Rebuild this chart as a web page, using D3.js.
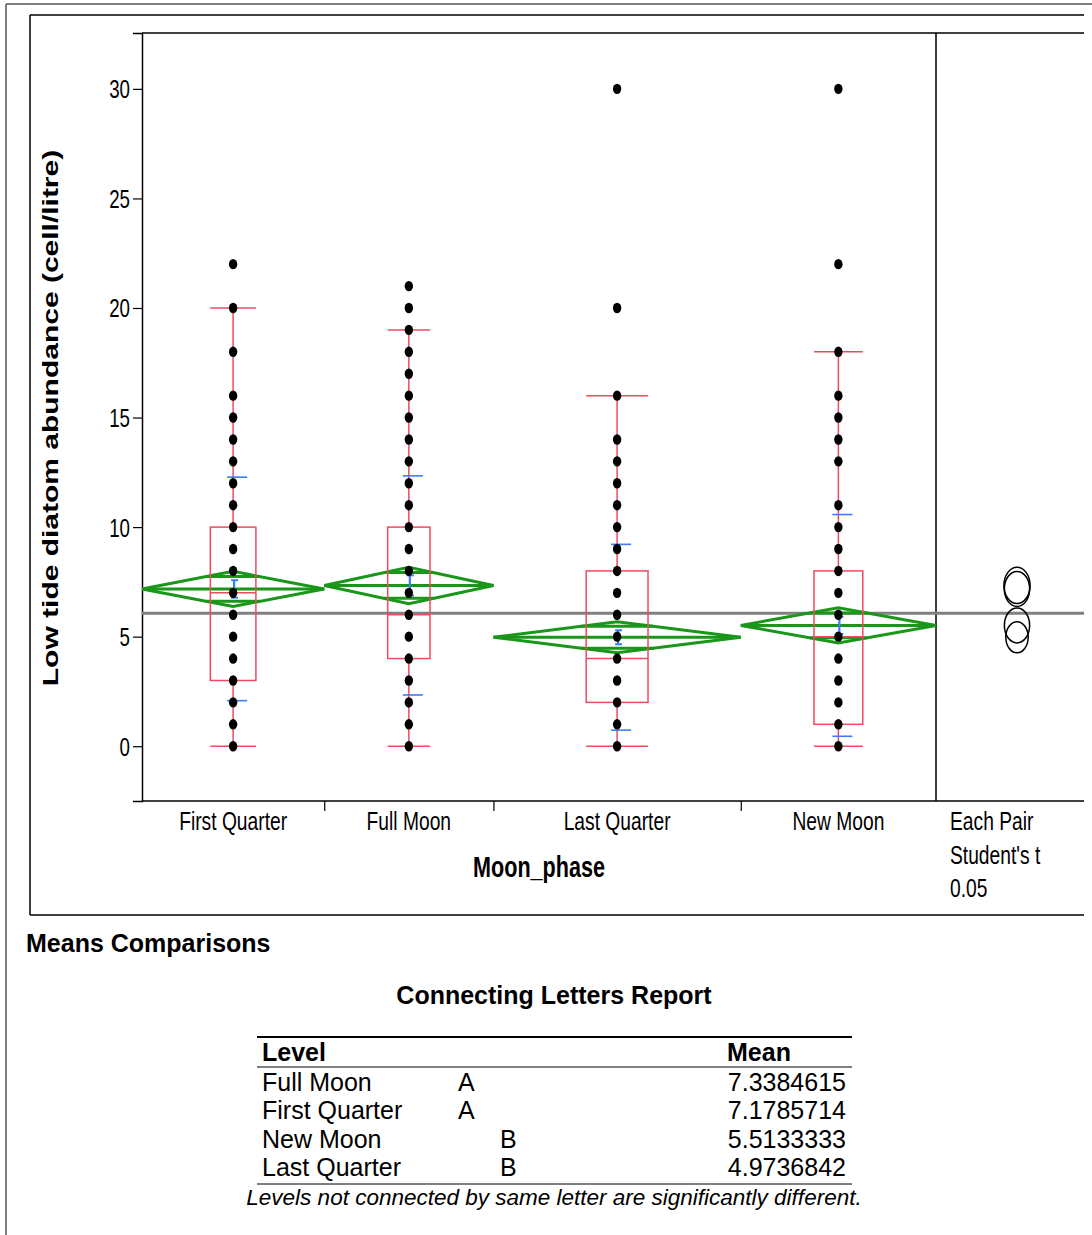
<!DOCTYPE html>
<html><head><meta charset="utf-8">
<script src="https://cdn.jsdelivr.net/npm/d3@7"></script>
<style>html,body{margin:0;padding:0;background:#fff;}svg{display:block;}</style>
</head><body>
<script>
// ---------- data ----------
const categories = ["First Quarter", "Full Moon", "Last Quarter", "New Moon"];
const groupN = [28, 26, 38, 30];
const means = [7.1785714, 7.3384615, 4.9736842, 5.5133333];
const ciHalf = [0.8, 0.83, 0.71, 0.8];
const stdErr = [0.4, 0.46, 0.32, 0.39];
const stdDev = [5.1, 5.0, 4.24, 5.06];
const q1 = [3, 4, 2, 1];
const medians = [7, 6, 4, 5];
const q3 = [10, 10, 8, 8];
const whiskerLo = [0, 0, 0, 0];
const whiskerHi = [20, 19, 16, 18];
const dotsFirstQuarter = [0,1,2,3,4,5,6,7,8,9,10,11,12,13,14,15,16,18,20,22];
const dotsFullMoon = [0,1,2,3,4,5,6,7,8,9,10,11,12,13,14,15,16,17,18,19,20,21];
const dotsLastQuarter = [0,1,2,3,4,5,6,7,8,9,10,11,12,13,14,16,20,30];
const dotsNewMoon = [0,1,2,3,4,5,6,7,8,9,10,11,13,14,15,16,18,22,30];
const dotsByGroup = [dotsFirstQuarter, dotsFullMoon, dotsLastQuarter, dotsNewMoon];
const grandMean = 6.07;
const yTicks = [0, 5, 10, 15, 20, 25, 30];
const yMinorTicks = [-2.5, 2.5, 7.5, 12.5, 17.5, 22.5, 27.5, 32.5];
const yLabel = "Low tide diatom abundance (cell/litre)";
const xLabel = "Moon_phase";
const compLabels = ["Each Pair", "Student's t", "0.05"];
const tableLevels = ["Full Moon", "First Quarter", "New Moon", "Last Quarter"];
const tableLetterCol = [0, 0, 1, 1];
const tableLetters = ["A", "A", "B", "B"];
const tableMeans = ["7.3384615", "7.1785714", "5.5133333", "4.9736842"];

// ---------- layout ----------
const W = 1092, H = 1235;
const svg = d3.select("body").append("svg").attr("width", W).attr("height", H)
  .style("font-family", "'Liberation Sans', Arial, sans-serif");
svg.append("rect").attr("width", W).attr("height", H).attr("fill", "#fff");

const L = 142, R = 936, T = 33, B = 801, RE = 1084;
const y = d3.scaleLinear().domain([-2.5, 32.55]).range([B, T]);
const totalN = d3.sum(groupN);
const x = d3.scaleLinear().domain([0, totalN]).range([L, R]);
const cum = [0]; groupN.forEach((n, i) => cum.push(cum[i] + n));
const bands = categories.map((c, i) => ({ x0: x(cum[i]), x1: x(cum[i + 1]), xc: x(cum[i] + groupN[i] / 2) }));

const SX = 0.74; // horizontal squish of the plot texts
function ctext(g, px, py, str, size, weight, anchor, sx) {
  return g.append("text").attr("transform", `translate(${px},${py}) scale(${sx},1)`)
    .attr("text-anchor", anchor).attr("font-size", size).attr("font-weight", weight)
    .attr("fill", "#000").text(str);
}

// frames
svg.append("line").attr("x1", 6).attr("x2", W).attr("y1", 4).attr("y2", 4).attr("stroke", "#555").attr("stroke-width", 1.5);
svg.append("line").attr("x1", 6).attr("x2", 6).attr("y1", 4).attr("y2", H).attr("stroke", "#555").attr("stroke-width", 1.5);
svg.append("line").attr("x1", 30).attr("x2", RE).attr("y1", 15).attr("y2", 15).attr("stroke", "#000").attr("stroke-width", 1.5);
svg.append("line").attr("x1", 30).attr("x2", 30).attr("y1", 15).attr("y2", 915).attr("stroke", "#000").attr("stroke-width", 1.5);
svg.append("line").attr("x1", 30).attr("x2", RE).attr("y1", 915).attr("y2", 915).attr("stroke", "#000").attr("stroke-width", 1.5);

// plot frame
svg.append("line").attr("x1", L).attr("x2", RE).attr("y1", T).attr("y2", T).attr("stroke", "#000").attr("stroke-width", 1.5);
svg.append("line").attr("x1", L).attr("x2", RE).attr("y1", B).attr("y2", B).attr("stroke", "#000").attr("stroke-width", 1.5);
svg.append("line").attr("x1", R).attr("x2", R).attr("y1", T).attr("y2", B).attr("stroke", "#000").attr("stroke-width", 1.5);

// y axis
const yAxisG = svg.append("g").attr("transform", `translate(${L},0)`);
yAxisG.call(d3.axisLeft(y).tickValues(yMinorTicks).tickSize(5).tickFormat(""));
yAxisG.call(d3.axisLeft(y).tickValues(yTicks).tickSize(9).tickFormat(""));
yAxisG.selectAll("path.domain").attr("stroke-width", 1.5);
yAxisG.selectAll("line").attr("stroke-width", 1.2);
yTicks.forEach(v => ctext(svg, 130, y(v) + 9.5, String(v), 26, "normal", "end", 0.72));

// x axis ticks at band boundaries
const xAxisG = svg.append("g").attr("transform", `translate(0,${B})`);
xAxisG.call(d3.axisBottom(x).tickValues(cum.slice(1, -1)).tickSize(10).tickFormat(""));
xAxisG.select("path.domain").remove();
xAxisG.selectAll("line").attr("stroke-width", 1.2);
bands.forEach((b, i) => ctext(svg, b.xc, 830, categories[i], 26, "normal", "middle", SX));
ctext(svg, (L + R) / 2, 877, xLabel, 30, "bold", "middle", 0.72);
compLabels.forEach((s, i) => ctext(svg, 950, 830 + i * 33.5, s, 26, "normal", "start", SX));

// y label
svg.append("text").attr("transform", `translate(58,418) rotate(-90) scale(1,0.75)`)
  .attr("text-anchor", "middle").attr("font-size", 30).attr("font-weight", "bold").text(yLabel);

// grand mean line
svg.append("line").attr("x1", L).attr("x2", RE).attr("y1", y(grandMean)).attr("y2", y(grandMean))
  .attr("stroke", "#808080").attr("stroke-width", 3);

// means diamonds
const green = "#1a961a";
const OV = Math.SQRT1_2;
bands.forEach((b, i) => {
  const m = means[i], c = ciHalf[i];
  const g = svg.append("g").attr("fill", "none").attr("stroke", green).attr("stroke-width", 3);
  g.append("path").attr("d", d3.line()([[b.x0, y(m)], [b.xc, y(m + c)], [b.x1, y(m)], [b.xc, y(m - c)], [b.x0, y(m)]]));
  g.append("line").attr("x1", b.x0).attr("x2", b.x1).attr("y1", y(m)).attr("y2", y(m));
  const hw = (b.x1 - b.x0) / 2 * (1 - OV);
  [m + c * OV, m - c * OV].forEach(v => g.append("line").attr("x1", b.xc - hw).attr("x2", b.xc + hw)
    .attr("y1", y(v)).attr("y2", y(v)));
});

// box plots
const red = "#ee4b62";
bands.forEach((b, i) => {
  const bw = (b.x1 - b.x0) * 0.25;
  const g = svg.append("g").attr("fill", "none").attr("stroke", red).attr("stroke-width", 1.5);
  g.append("rect").attr("x", b.xc - bw / 2).attr("width", bw).attr("y", y(q3[i])).attr("height", y(q1[i]) - y(q3[i]));
  g.append("line").attr("x1", b.xc - bw / 2).attr("x2", b.xc + bw / 2).attr("y1", y(medians[i])).attr("y2", y(medians[i]));
  g.append("line").attr("x1", b.xc).attr("x2", b.xc).attr("y1", y(q3[i])).attr("y2", y(whiskerHi[i]));
  g.append("line").attr("x1", b.xc).attr("x2", b.xc).attr("y1", y(q1[i])).attr("y2", y(whiskerLo[i]));
  [whiskerHi[i], whiskerLo[i]].forEach(v => g.append("line").attr("x1", b.xc - bw / 2).attr("x2", b.xc + bw / 2)
    .attr("y1", y(v)).attr("y2", y(v)));
});

// std dev & std err marks
const blue = "#3d7cf5";
bands.forEach((b, i) => {
  const g = svg.append("g").attr("stroke", blue).attr("stroke-width", 1.6);
  [means[i] + stdDev[i], means[i] - stdDev[i]].forEach(v => g.append("line")
    .attr("x1", b.xc - 6).attr("x2", b.xc + 14).attr("y1", y(v)).attr("y2", y(v)));
  g.append("line").attr("x1", b.xc + 1).attr("x2", b.xc + 1).attr("y1", y(means[i] + stdErr[i])).attr("y2", y(means[i] - stdErr[i])).attr("stroke-width", 2.2);
  [means[i] + stdErr[i], means[i] - stdErr[i]].forEach(v => g.append("line")
    .attr("x1", b.xc - 2).attr("x2", b.xc + 5).attr("y1", y(v)).attr("y2", y(v)).attr("stroke-width", 2));
});

// data points
bands.forEach((b, i) => {
  svg.append("g").selectAll("ellipse").data(dotsByGroup[i]).join("ellipse")
    .attr("cx", b.xc).attr("cy", d => y(d)).attr("rx", 4.2).attr("ry", 5.2).attr("fill", "#000");
});

// comparison circles
const circX = 1017;
categories.forEach((c, i) => {
  const ry = y(means[i] - ciHalf[i]) - y(means[i]);
  svg.append("ellipse").attr("cx", circX).attr("cy", y(means[i])).attr("rx", ry * 0.72).attr("ry", ry)
    .attr("fill", "none").attr("stroke", "#000").attr("stroke-width", 1.5);
});

// ---------- report section ----------
svg.append("text").attr("x", 26).attr("y", 952).attr("font-size", 25).attr("font-weight", "bold").text("Means Comparisons");
svg.append("text").attr("x", 554).attr("y", 1004).attr("text-anchor", "middle").attr("font-size", 25).attr("font-weight", "bold").text("Connecting Letters Report");
const tL = 257, tR = 852;
svg.append("line").attr("x1", tL).attr("x2", tR).attr("y1", 1037).attr("y2", 1037).attr("stroke", "#000").attr("stroke-width", 2);
svg.append("line").attr("x1", tL).attr("x2", tR).attr("y1", 1067).attr("y2", 1067).attr("stroke", "#000").attr("stroke-width", 1);
svg.append("line").attr("x1", tL).attr("x2", tR).attr("y1", 1184).attr("y2", 1184).attr("stroke", "#000").attr("stroke-width", 1);
svg.append("text").attr("x", 262).attr("y", 1061).attr("font-size", 25).attr("font-weight", "bold").text("Level");
svg.append("text").attr("x", 727).attr("y", 1061).attr("font-size", 25).attr("font-weight", "bold").text("Mean");
const letterX = [458, 500];
tableLevels.forEach((lv, i) => {
  const by = 1091 + i * 28.4;
  svg.append("text").attr("x", 262).attr("y", by).attr("font-size", 25).text(lv);
  svg.append("text").attr("x", letterX[tableLetterCol[i]]).attr("y", by).attr("font-size", 25).text(tableLetters[i]);
  svg.append("text").attr("x", 846).attr("y", by).attr("text-anchor", "end").attr("font-size", 25).text(tableMeans[i]);
});
svg.append("text").attr("x", 554).attr("y", 1205).attr("text-anchor", "middle").attr("font-size", 22.5)
  .attr("font-style", "italic").text("Levels not connected by same letter are significantly different.");
</script>
</body></html>
